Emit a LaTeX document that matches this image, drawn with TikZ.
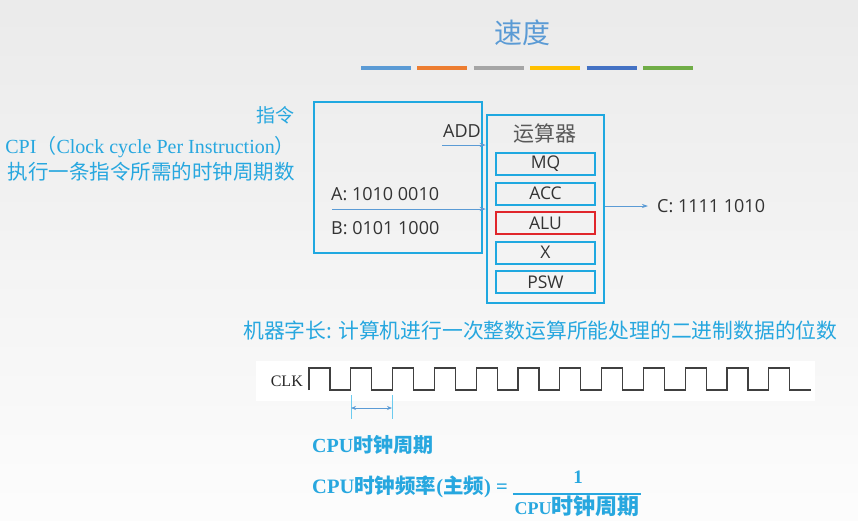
\documentclass[tikz,border=0pt]{standalone}
\usepackage{fontspec}
\setmainfont{Liberation Serif}
\newfontfamily\cjk{Noto Sans CJK SC}
\newfontfamily\osans{Open Sans}
\usetikzlibrary{positioning, arrows.meta}
\definecolor{TitleBlue}{HTML}{5B9BD5}
\definecolor{TextCyan}{HTML}{27A7DF}
\definecolor{BoxCyan}{HTML}{1FA8E0}
\definecolor{AluRed}{HTML}{E0262B}
\definecolor{WaveGray}{HTML}{404040}
\definecolor{MarkCyan}{HTML}{6CCBEF}
\definecolor{BarOrange}{HTML}{ED7D31}
\definecolor{BarGray}{HTML}{A5A5A5}
\definecolor{BarYellow}{HTML}{FFC000}
\definecolor{BarBlue}{HTML}{4472C4}
\definecolor{BarGreen}{HTML}{70AD47}

\begin{document}
\begin{tikzpicture}[x=1pt, y=-1pt, node distance=5.5pt,
  reg/.style={rectangle, draw=BoxCyan, line width=2pt, minimum width=99pt, minimum height=22pt, inner sep=0pt, text=black!80, font=\osans\fontsize{17.5}{17.5}\selectfont},
  flow/.style={-{Stealth[length=6pt, width=4pt]}, TitleBlue, line width=0.7pt},
  cyantext/.style={text=TextCyan, inner sep=0pt},
  databit/.style={anchor=west, inner sep=0pt, text=black!80, font=\osans\fontsize{18}{18}\selectfont},
  bar/.style={line width=4.5pt}]
\shade[top color=black!8, bottom color=black!1] (0,0) rectangle (858,520);
\useasboundingbox (0,0) rectangle (858,520);

% title and colour bars
\node[text=TitleBlue, font=\cjk\fontsize{28}{28}\selectfont] (title) at (522,33) {速度};
\foreach \c [count=\i from 0] in {TitleBlue, BarOrange, BarGray, BarYellow, BarBlue, BarGreen}
  \draw[bar, \c] (361+56.4*\i,68) -- ++(50,0);

% left notes
\node[cyantext, anchor=east, font=\cjk\fontsize{19}{19}\selectfont] (instrlabel) at (295,115) {指令};
\node[cyantext, anchor=east, font=\fontsize{20}{20}\selectfont] (cpi) at (295,147) {CPI{\cjk（}Clock cycle Per Instruction{\cjk）}};
\node[cyantext, anchor=east, font=\cjk\fontsize{20.5}{20.5}\selectfont] (cpidef) at (295,172) {执行一条指令所需的时钟周期数};

% instruction box and ALU unit
\node[draw=BoxCyan, line width=1.8pt, minimum width=168pt, minimum height=151pt] (instr) at (398,177.5) {};
\node[draw=BoxCyan, line width=2.5pt, minimum width=117pt, minimum height=188pt] (ops) at (545.5,209) {};
\node[text=black!65, font=\cjk\fontsize{21}{21}\selectfont] (opsname) at (545,134) {运算器};
\node[reg] (mq) at (545.5,164) {MQ};
\node[reg, below=of mq] (acc) {ACC};
\node[reg, draw=AluRed, below=of acc] (alu) {ALU};
\node[reg, below=of alu] (x) {X};
\node[reg, below=of x] (psw) {PSW};

\node[databit, anchor=east] (add) at (481,131) {ADD};
\node[databit] (rega) at (331,194) {A: 1010 0010};
\node[databit] (regb) at (331,228) {B: 0101 1000};
\node[databit] (regc) at (657,206) {C: 1111 1010};
\coordinate (addtail) at (442,145);
\coordinate (abtail) at (332,209);
\draw[flow] (addtail) -- (addtail -| ops.west);
\draw[flow] (abtail) -- (abtail -| ops.west);
\draw[flow] (ops.east |- regc) -- ([xshift=-9pt]regc.west);

% word length
\node[cyantext, anchor=west, font=\cjk\fontsize{20.8}{20.8}\selectfont] (wordlen) at (243,331) {机器字长: 计算机进行一次整数运算所能处理的二进制数据的位数};

% clock
\fill[white] (256,361) rectangle (815,401);
\node[anchor=east, inner sep=0pt, text=black!85, font=\fontsize{16}{16}\selectfont] (clk) at (303,381) {CLK};
\coordinate (wave) at (309,390);
\draw[WaveGray, line width=1.2pt] (wave)
  \foreach \k in {1,...,12} { -- ++(0,-22) -- ++(21,0) -- ++(0,22) -- ++(20.8,0) };
\coordinate (t1) at (351,395);
\coordinate (t2) at (392,395);
\draw[MarkCyan, line width=1pt] (t1) -- ++(0,24) (t2) -- ++(0,24);
\draw[{Stealth[length=5pt, width=4pt]}-{Stealth[length=5pt, width=4pt]}, TitleBlue, line width=0.8pt] ([yshift=-13pt]t1) -- ([yshift=-13pt]t2);

% period and frequency
\node[cyantext, anchor=west, font=\bfseries\fontsize{20}{20}\selectfont] (period) at (312,445) {CPU{\cjk 时钟周期}};
\node[cyantext, anchor=west, font=\bfseries\fontsize{20.5}{20.5}\selectfont] (freq) at (312,487) {CPU{\cjk 时钟频率}({\cjk 主频}) =};
\node[cyantext, font=\bfseries\fontsize{19}{19}\selectfont] (num) at (578,477) {1};
\node[cyantext, inner sep=1.5pt, font=\bfseries] (den) at (577,506) {{\fontsize{18}{18}\selectfont CPU}{\cjk\fontsize{22}{22}\selectfont 时钟周期}};
\draw[TextCyan, line width=1.5pt] (den.north west) -- (den.north east);
\end{tikzpicture}
\end{document}
